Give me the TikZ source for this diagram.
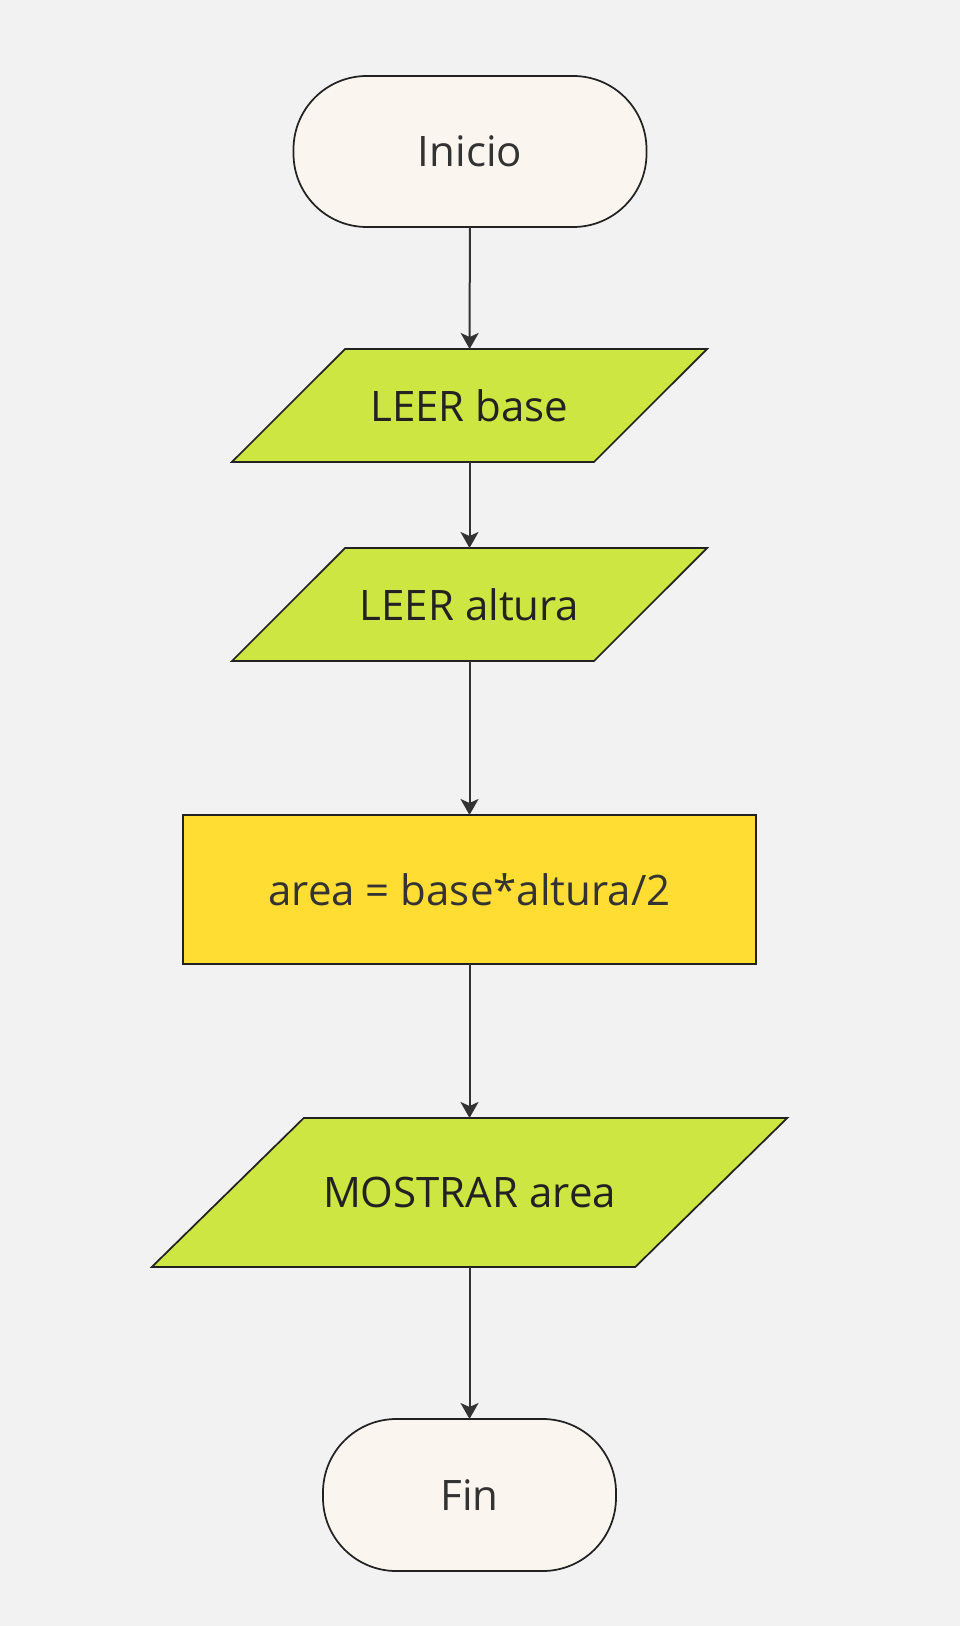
\documentclass[tikz,border=0pt]{standalone}
\usepackage{fontspec}
\setmainfont{Open Sans}
\usetikzlibrary{arrows.meta,backgrounds}
\definecolor{bgc}{HTML}{F2F2F2}
\definecolor{termc}{HTML}{FAF6EF}
\definecolor{ioc}{HTML}{CDE641}
\definecolor{procc}{HTML}{FFDD33}
\definecolor{linec}{HTML}{222222}
\definecolor{textc}{HTML}{333333}
\tikzset{
  base/.style={draw=linec, line width=1.3pt, text=textc, inner sep=0pt, outer sep=0pt, font=\fontsize{31.5}{36}\selectfont},
  term/.style={base, fill=termc, rectangle, rounded corners=55pt},
  iobox/.style={base, draw=none, rectangle, text=linec},
  ioshape/.style={draw=linec, line width=1.3pt, fill=ioc, line join=miter},
  proc/.style={base, fill=procc, rectangle},
  conn/.style={draw=textc, line width=1.5pt, -{Stealth[length=12pt,width=13.5pt,inset=3pt]}}
}
\newcommand{\ioframe}[2]{%
  \path[ioshape] ([xshift=-#2]#1.south west) -- ([xshift=#2]#1.north west) -- ([xshift=#2]#1.north east) -- ([xshift=-#2]#1.south east) -- cycle;}
\begin{document}
\begin{tikzpicture}[x=0.75pt,y=-0.75pt]
\useasboundingbox (0,0) rectangle (960,1626);
\node[term, minimum width=264.75pt, minimum height=113.25pt] (inicio) at (470,151.5) {Inicio};
\node[iobox, minimum width=271.5pt, minimum height=84.75pt] (base) at (469.5,405.5) {LEER base};
\node[iobox, minimum width=271.5pt, minimum height=84.75pt] (altura) at (469.5,604.5) {LEER altura};
\node[proc, minimum width=429.75pt, minimum height=111.75pt] (area) at (469.5,889.5) {area = base*altura/2};
\node[iobox, minimum width=362.6pt, minimum height=111.75pt] (mostrar) at (469.5,1192.5) {MOSTRAR area};
\node[term, minimum width=219.75pt, minimum height=114pt] (fin) at (469.5,1495) {Fin};
\begin{pgfonlayer}{background}
\fill[bgc] (0,0) rectangle (960,1626);
\ioframe{base}{42.4pt}
\ioframe{altura}{42.4pt}
\ioframe{mostrar}{57pt}
\end{pgfonlayer}
\draw[conn] (inicio) -- (base);
\draw[conn] (base) -- (altura);
\draw[conn] (altura) -- (area);
\draw[conn] (area) -- (mostrar);
\draw[conn] (mostrar) -- (fin);
\end{tikzpicture}
\end{document}
